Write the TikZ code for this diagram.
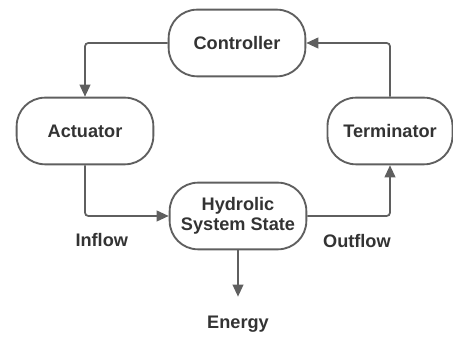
\documentclass[tikz,border=0pt]{standalone}
\usepackage{fontspec}
\setmainfont{Liberation Sans}
\usepackage{xcolor}
\usetikzlibrary{arrows.meta,positioning,calc}
\definecolor{edgegray}{HTML}{5F5F5F}
\definecolor{textgray}{HTML}{333333}

\begin{document}
\begin{tikzpicture}[
  font=\fontsize{15.5}{17}\selectfont\bfseries, text=textgray,
  >={Triangle[length=3.6mm,width=3.2mm]},
  state/.style={draw=edgegray,line width=1.6pt,rounded corners=8.5mm,minimum width=41mm,minimum height=20mm,align=center},
  flow/.style={->,draw=edgegray,line width=1.5pt,rounded corners=1mm}]
  \useasboundingbox (0,0) rectangle (13.59,10.14);
  \node[state] (ctrl) at (7.11,8.85) {Controller};
  \node[state] (act) at (2.55,6.21) {Actuator};
  \node[state] (hyd) at (7.14,3.66) {Hydrolic\\System State};
  \node[state,minimum width=37.5mm] (term) at (11.7,6.21) {Terminator};
  \node (energy) at (7.14,0.42) {Energy};
  \draw[flow] (ctrl.west) -| (act.north);
  \draw[flow] (act.south) |- node[pos=0.6,yshift=-7.2mm]{Inflow} (hyd.west);
  \draw[flow] (hyd.east) -| node[pos=0.3,yshift=-7.5mm]{Outflow} (term.south);
  \draw[flow] (term.north) |- (ctrl.east);
  \draw[flow] (hyd.south) -- ([yshift=4.5mm]energy.north);
\end{tikzpicture}
\end{document}
